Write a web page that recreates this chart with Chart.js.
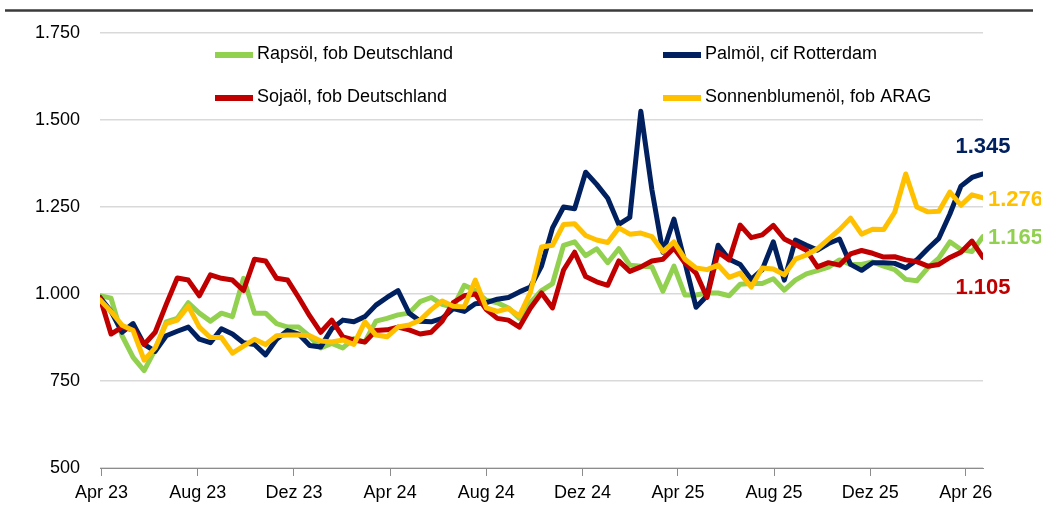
<!DOCTYPE html>
<html>
<head>
<meta charset="utf-8">
<script src="https://cdn.jsdelivr.net/npm/chart.js@4.4.1/dist/chart.umd.min.js"></script>
<style>
  html, body { margin: 0; padding: 0; background: #fff; }
  #wrap { position: relative; width: 1041px; height: 508px; }
</style>
</head>
<body>
<div id="wrap"><canvas id="myChart"></canvas></div>
<script>
// Biweekly samples, first one on 30 Mar 2023
var startDate = new Date(Date.UTC(2023, 2, 30));
var stepDays = 14;

var seriesNames = ['Rapsöl, fob Deutschland', 'Palmöl, cif Rotterdam', 'Sojaöl, fob Deutschland', 'Sonnenblumenöl, fob ARAG'];
var seriesColors = ['#92D050', '#002060', '#C00000', '#FFC000'];

var rapsoel = [995, 988, 880, 818, 780, 840, 920, 930, 975, 945,
  922, 945, 935, 1045, 945, 945, 915, 905, 905, 878,
  845, 858, 845, 872, 862, 922, 930, 940, 945, 978,
  990, 970, 962, 1025, 1010, 982, 975, 960, 930, 975,
  1010, 1030, 1140, 1150, 1110, 1130, 1090, 1130, 1083, 1080,
  1078, 1008, 1080, 997, 997, 1003, 1003, 995, 1028, 1030,
  1030, 1044, 1011, 1040, 1058, 1067, 1077, 1098, 1085, 1085,
  1092, 1080, 1070, 1042, 1038, 1075, 1103, 1150, 1128, 1122,
  1165];
var palmoel = [990, 950, 890, 915, 855, 835, 880, 893, 905, 870,
  860, 900, 885, 860, 855, 825, 870, 895, 885, 852,
  848, 900, 925, 920, 935, 968, 990, 1010, 945, 922,
  920, 930, 958, 950, 972, 975, 985, 990, 1006, 1020,
  1080, 1190, 1250, 1245, 1350, 1315, 1275, 1200, 1220, 1525,
  1300, 1120, 1215, 1090, 962, 995, 1140, 1100, 1085, 1042,
  1070, 1150, 1040, 1155, 1140, 1126, 1145, 1158, 1085, 1068,
  1090, 1090, 1088, 1075, 1098, 1130, 1160, 1230, 1310, 1335,
  1345];
var sojaoel = [990, 885, 905, 897, 855, 890, 970, 1046, 1040, 995,
  1055, 1045, 1040, 1010, 1100, 1095, 1045, 1040, 990, 937,
  890, 925, 877, 868, 862, 895, 897, 905, 897, 885,
  890, 922, 975, 995, 1000, 955, 930, 925, 905, 960,
  1003, 960, 1069, 1120, 1050, 1035, 1025, 1095, 1065, 1078,
  1095, 1100, 1132, 1089, 1060, 990, 1120, 1098, 1198, 1162,
  1170, 1197, 1158, 1142, 1126, 1078, 1090, 1083, 1115, 1125,
  1117, 1106, 1107, 1098, 1093, 1080, 1085, 1105, 1120, 1152,
  1105];
var sonnenblumenoel = [983, 950, 910, 895, 810, 845, 915, 925, 965, 905,
  875, 875, 830, 850, 870, 855, 880, 882, 882, 880,
  865, 862, 868, 855, 920, 882, 877, 905, 911, 925,
  955, 980, 965, 963, 1040, 960, 950, 958, 937, 1005,
  1135, 1140, 1200, 1202, 1168, 1155, 1148, 1190, 1172, 1175,
  1165, 1122, 1150, 1100, 1075, 1070, 1083, 1048, 1060, 1020,
  1075, 1072, 1055, 1100, 1112, 1130, 1158, 1185, 1218, 1172,
  1186, 1185, 1235, 1345, 1250, 1236, 1238, 1293, 1255, 1285,
  1276];

var tickLabels = ['Apr 23', 'Aug 23', 'Dez 23', 'Apr 24', 'Aug 24', 'Dez 24', 'Apr 25', 'Aug 25', 'Dez 25', 'Apr 26'];
var tickDates = ['2023-04-01', '2023-08-01', '2023-12-01', '2024-04-01', '2024-08-01', '2024-12-01', '2025-04-01', '2025-08-01', '2025-12-01', '2026-04-01'];

var DAY = 86400000;
var origin = Date.UTC(2023, 3, 1);
var tickDays = tickDates.map(function (d) { return Math.round((Date.parse(d) - origin) / DAY); });
function dayOf(i) { return Math.round((startDate.getTime() - origin) / DAY) + i * stepDays; }
function toPoints(arr) { return arr.map(function (v, i) { return { x: dayOf(i), y: v }; }); }

var fmt = function (v) { return Number(v).toLocaleString('de-DE'); };
var fontFamily = "'Liberation Sans', Arial, sans-serif";

// where the last value is written, relative to the last point
var endLabels = [
  { dx: 5, dy: 1, align: 'left' },
  { dx: 0, dy: -27, align: 'center' },
  { dx: 0, dy: 30, align: 'center' },
  { dx: 5, dy: 2, align: 'left' }
];

var allSeries = [rapsoel, palmoel, sojaoel, sonnenblumenoel];

var extras = {
  id: 'extras',
  afterDraw: function (chart) {
    var c = chart.ctx;
    c.save();
    // rule under the (cropped) headline
    c.strokeStyle = '#3a3a3a';
    c.lineWidth = 2.5;
    c.beginPath(); c.moveTo(5, 10.5); c.lineTo(1033, 10.5); c.stroke();

    // legend, two columns
    var cols = [215, 663], rows = [54, 97];
    c.font = '18px ' + fontFamily;
    c.textBaseline = 'middle';
    c.textAlign = 'left';
    seriesNames.forEach(function (name, i) {
      var x = cols[i % 2], y = rows[Math.floor(i / 2)];
      c.strokeStyle = seriesColors[i];
      c.lineWidth = 6;
      c.beginPath(); c.moveTo(x, y + 1); c.lineTo(x + 38, y + 1); c.stroke();
      c.fillStyle = '#000';
      c.fillText(name, x + 42, y);
    });

    // end values
    c.font = 'bold 22px ' + fontFamily;
    chart.data.datasets.forEach(function (ds, i) {
      var meta = chart.getDatasetMeta(i);
      var pt = meta.data[meta.data.length - 1];
      var lab = endLabels[i];
      c.fillStyle = seriesColors[i];
      c.textAlign = lab.align;
      c.fillText(fmt(allSeries[i][allSeries[i].length - 1]), pt.x + lab.dx, pt.y + lab.dy);
    });
    c.restore();
  }
};

var ctx = document.getElementById('myChart').getContext('2d');
var chart = new Chart(ctx, {
  type: 'line',
  data: {
    datasets: allSeries.map(function (arr, i) {
      return {
        label: seriesNames[i],
        data: toPoints(arr),
        borderColor: seriesColors[i],
        backgroundColor: seriesColors[i],
        borderWidth: 5,
        pointRadius: 0,
        tension: 0,
        borderJoinStyle: 'round',
        borderCapStyle: 'round',
        order: 3 - i // yellow on top
      };
    })
  },
  options: {
    responsive: true,
    maintainAspectRatio: false,
    animation: false,
    layout: { padding: { left: 0, top: 33, right: 58, bottom: 0 } },
    plugins: {
      legend: { display: false },
      tooltip: { enabled: false }
    },
    scales: {
      x: {
        type: 'linear',
        min: -2,
        max: 1118,
        afterBuildTicks: function (scale) {
          scale.ticks = tickDays.map(function (v) { return { value: v }; });
        },
        afterFit: function (scale) { scale.height = 40; },
        ticks: {
          autoSkip: false,
          maxRotation: 0,
          padding: 6,
          color: '#000',
          font: { family: fontFamily, size: 18 },
          callback: function (v) { return tickLabels[tickDays.indexOf(v)]; }
        },
        grid: { drawOnChartArea: false, drawTicks: true, tickLength: 8, color: '#8c8c8c' },
        border: { display: true, color: '#8c8c8c', width: 1 }
      },
      y: {
        min: 500,
        max: 1750,
        afterFit: function (scale) { scale.width = 100; },
        ticks: {
          stepSize: 250,
          padding: 20,
          color: '#000',
          font: { family: fontFamily, size: 18 },
          callback: function (v) { return fmt(v); }
        },
        grid: { color: '#d9d9d9', lineWidth: 1.5, drawTicks: false },
        border: { display: false }
      }
    }
  },
  plugins: [extras]
});
</script>
</body>
</html>
